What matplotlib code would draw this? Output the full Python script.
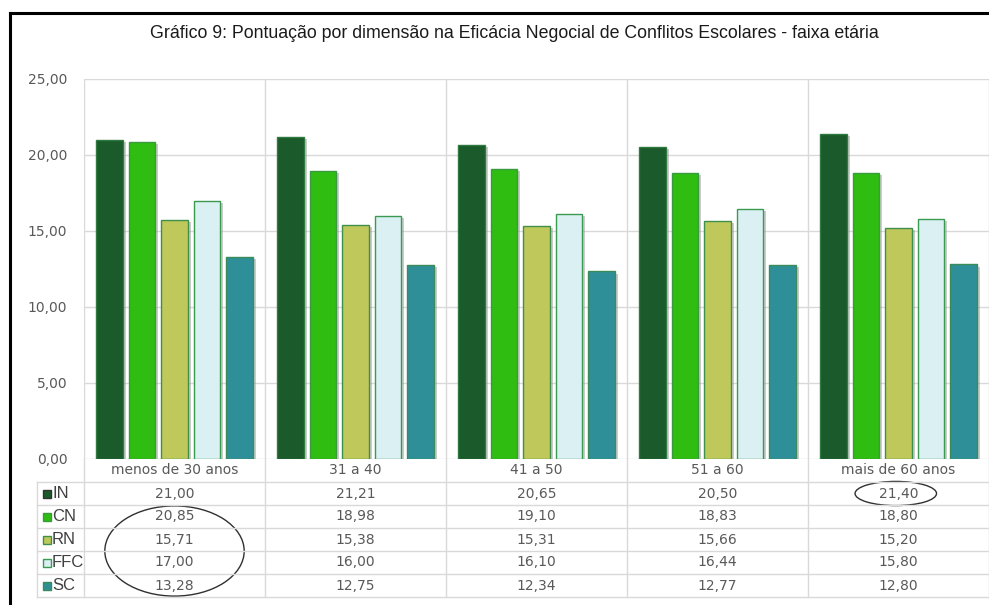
import matplotlib
matplotlib.use("Agg")
import matplotlib.pyplot as plt
import matplotlib.patheffects as pe
from matplotlib.patches import Ellipse
from matplotlib.lines import Line2D
from matplotlib.transforms import blended_transform_factory
from matplotlib.ticker import FuncFormatter
import numpy as np

# data
categories = ["menos de 30 anos", "31 a 40", "41 a 50", "51 a 60", "mais de 60 anos"]
series = ["IN", "CN", "RN", "FFC", "SC"]
IN = [21.00, 21.21, 20.65, 20.50, 21.40]
CN = [20.85, 18.98, 19.10, 18.83, 18.80]
RN = [15.71, 15.38, 15.31, 15.66, 15.20]
FFC = [17.00, 16.00, 16.10, 16.44, 15.80]
SC = [13.28, 12.75, 12.34, 12.77, 12.80]
values = [IN, CN, RN, FFC, SC]

colors = ["#1b5a2a", "#2ebd10", "#bfc85a", "#daf0f2", "#2e8f98"]
edges = ["#2f7a3e", "#3a9a40", "#3f8f4c", "#3a9a50", "#3a8a5a"]

title = "Gráfico 9: Pontuação por dimensão na Eficácia Negocial de Conflitos Escolares - faixa etária"

W, H = 989, 605
fig = plt.figure(figsize=(W / 100, H / 100), dpi=100)
fig.patch.set_facecolor("white")

# plot area in pixels
x0, x1 = 84, 989
y_top, y_zero = 79, 459
ax = fig.add_axes([x0 / W, (H - y_zero) / H, (x1 - x0) / W, (y_zero - y_top) / H])
ax_h = y_zero - y_top

n = len(series)
x = np.arange(len(categories))
step = 0.18
width = 0.148
shadow = [pe.SimplePatchShadow(offset=(2, -1.5), shadow_rgbFace="#999999", alpha=0.5), pe.Normal()]
for i, (name, vals) in enumerate(zip(series, values)):
    bars = ax.bar(x + (i - (n - 1) / 2) * step, vals, width, color=colors[i],
                  edgecolor=edges[i], linewidth=1, zorder=3)
    for b in bars:
        b.set_path_effects(shadow)

ax.set_xlim(-0.5, len(categories) - 0.5)
ax.set_ylim(0, 25)
ax.set_yticks(np.arange(0, 26, 5))
ax.yaxis.set_major_formatter(FuncFormatter(lambda v, p: f"{v:.2f}".replace(".", ",")))
ax.tick_params(axis="y", length=0, pad=12, labelsize=10, labelcolor="#595959")
ax.set_xticks([])
ax.grid(axis="y", color="#d9d9d9", linewidth=1, zorder=0)
for s in ax.spines.values():
    s.set_visible(False)
for b in np.arange(-0.5, len(categories), 1.0):
    ax.axvline(b, color="#d9d9d9", linewidth=1, zorder=0)

# table below the chart
row_h = 23 / ax_h
head_h = 23 / ax_h
left_col = (37 - x0) / (x1 - x0)
trans = blended_transform_factory(ax.transData, ax.transAxes)
grid_kw = dict(color="#d9d9d9", linewidth=1, clip_on=False)

bottom = -(head_h + n * row_h)
for b in np.arange(-0.5, len(categories), 1.0):
    ax.add_line(Line2D([b, b], [0, bottom], transform=trans, **grid_kw))
ax.add_line(Line2D([left_col, left_col], [-head_h, bottom], transform=ax.transAxes, **grid_kw))
for r in range(n + 1):
    yy = -head_h - r * row_h
    ax.add_line(Line2D([left_col, 1], [yy, yy], transform=ax.transAxes, **grid_kw))

for j, c in enumerate(categories):
    ax.text(x[j], -head_h / 2, c, transform=trans, ha="center", va="center",
            fontsize=10, color="#595959", clip_on=False)

for i, (name, vals) in enumerate(zip(series, values)):
    yc = -head_h - (i + 0.5) * row_h
    for j, v in enumerate(vals):
        ax.text(x[j], yc, f"{v:.2f}".replace(".", ","), transform=trans, ha="center",
                va="center", fontsize=10, color="#595959", clip_on=False)
    ax.plot([(46.5 - x0) / (x1 - x0)], [yc], marker="s", markersize=6, mfc=colors[i],
            mec=edges[i] if i != 0 else "#333333", mew=1, transform=ax.transAxes, clip_on=False)
    ax.text((52 - x0) / (x1 - x0), yc, name, transform=ax.transAxes, ha="left", va="center",
            fontsize=12, family="Liberation Sans", color="#404040", clip_on=False)

# hand-drawn highlight ellipses
ax.add_patch(Ellipse((x[0], -head_h - 3 * row_h), 0.77, 4 * row_h * 0.98, transform=trans,
                     fill=False, edgecolor="#303030", linewidth=1, clip_on=False))
ax.add_patch(Ellipse((x[4] - 0.015, -head_h - 0.5 * row_h), 0.45, row_h * 1.05, transform=trans,
                     fill=False, edgecolor="#303030", linewidth=1, clip_on=False))

fig.text(514.5 / W, 1 - 33 / H, title, ha="center", va="center", fontsize=12.8,
         family="Liberation Sans", color="#1a1a1a")

# outer frame (left and top edges)
fig.add_artist(Line2D([9.5 / W, 9.5 / W], [0, 1 - 12.5 / H], color="black", linewidth=2.2,
                      transform=fig.transFigure))
fig.add_artist(Line2D([9.5 / W, 1], [1 - 12.5 / H, 1 - 12.5 / H], color="black", linewidth=2.2,
                      transform=fig.transFigure))

fig.savefig("out.png", dpi=100)
